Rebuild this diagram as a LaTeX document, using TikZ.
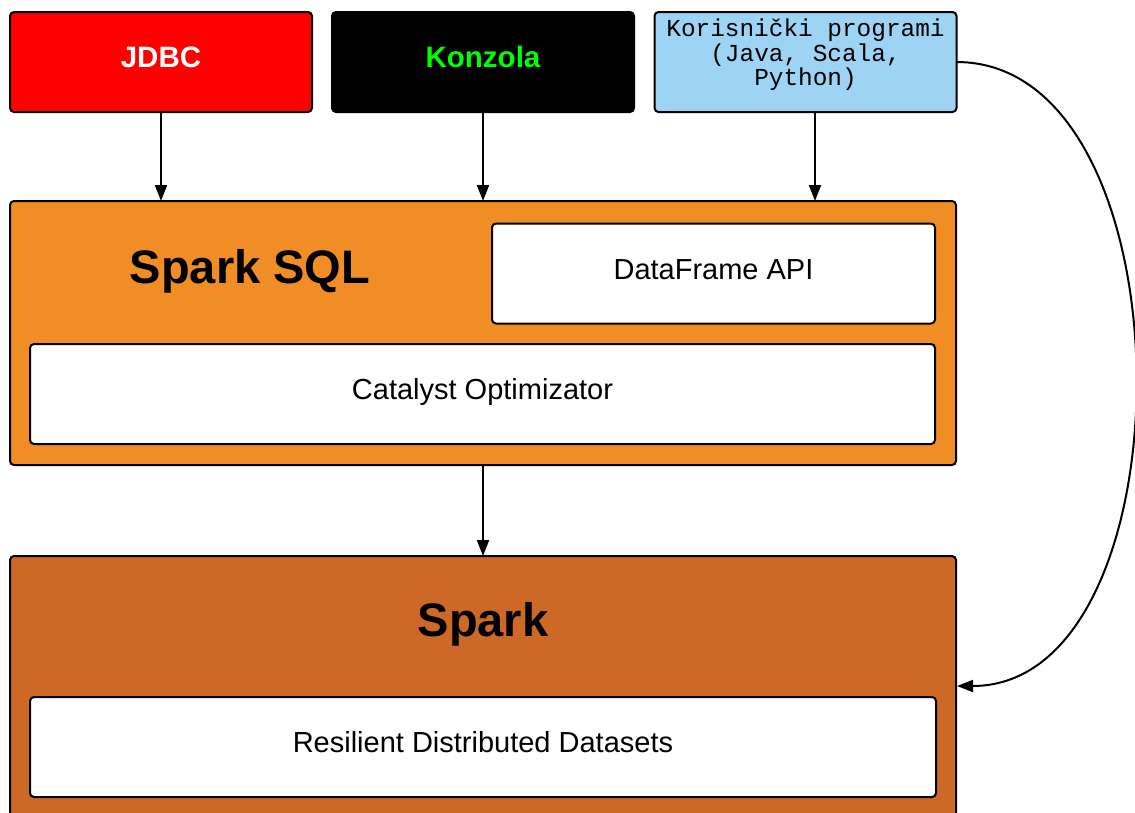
\documentclass[tikz,border=0pt]{standalone}
\usepackage{fontspec}
\setmainfont{Liberation Sans}
\newfontfamily\monofam{Liberation Mono}
\usetikzlibrary{arrows.meta}
\definecolor{jdbcred}{HTML}{FF0000}
\definecolor{konzgreen}{HTML}{00FF00}
\definecolor{userblue}{HTML}{9DD3F3}
\definecolor{sqlorange}{HTML}{F08D24}
\definecolor{sparkbrown}{HTML}{CD6827}
\tikzset{
  box/.style={draw=black, line width=2pt, rounded corners=4pt, inner sep=0pt, outer sep=0pt},
  topbox/.style={box, minimum width=302pt, minimum height=100pt},
  innerbox/.style={box, fill=white, minimum height=100pt},
  lbl/.style={inner sep=0pt, outer sep=0pt, anchor=base},
  toplbl/.style={lbl, font=\fontsize{29.5}{33}\selectfont\bfseries},
  innerlbl/.style={lbl, font=\fontsize{29}{33}\selectfont},
  titlelbl/.style={lbl, font=\fontsize{47}{52}\selectfont\bfseries},
  conn/.style={line width=2pt, -{Triangle[length=16pt,width=12pt]}}
}
\begin{document}
\begin{tikzpicture}[x=1pt,y=-1pt]
\useasboundingbox (0,0) rectangle (1135,812);
\clip (0,0) rectangle (1135,812);
% top boxes
\node[topbox, fill=jdbcred] (jdbc) at (161,62) {};
\node[toplbl, text=white] (jdbclbl) at (161,67.6) {JDBC};
\node[topbox, fill=black] (konz) at (483,62) {};
\node[toplbl, text=konzgreen] (konzlbl) at (483,67.6) {Konzola};
\node[topbox, fill=userblue] (user) at (805.5,62) {};
\node[inner sep=0pt, align=center, font=\monofam\fontsize{24.4}{24.5}\selectfont] (userlbl) at (805.5,55) {Korisnički programi\\(Java, Scala,\\Python)};
% Spark SQL
\node[box, fill=sqlorange, minimum width=946pt, minimum height=264pt] (sql) at (483,333) {};
\node[titlelbl] (sqltitle) at (250,283.8) {Spark SQL};
\node[innerbox, minimum width=443pt] (df) at (713.5,273.5) {};
\node[innerlbl] (dflbl) at (713.5,279.4) {DataFrame API};
\node[innerbox, minimum width=905pt] (cat) at (482.5,394) {};
\node[innerlbl] (catlbl) at (482.5,399.4) {Catalyst Optimizator};
% Spark
\node[box, fill=sparkbrown, minimum width=946pt, minimum height=300pt] (spark) at (483,706) {};
\node[titlelbl] (sparktitle) at (483,636.8) {Spark};
\node[innerbox, minimum width=906pt] (rdd) at (483,747) {};
\node[innerlbl] (rddlbl) at (483,752.4) {Resilient Distributed Datasets};
% connectors
\draw[conn] (jdbc.south) -- (jdbc.south |- sql.north);
\draw[conn] (konz.south) -- (konz.south |- sql.north);
\coordinate (userdown) at (815,112);
\draw[conn] (userdown) -- (userdown |- sql.north);
\draw[conn] (sql.south) -- (spark.north);
\coordinate (sparkin) at (957,686);
\draw[conn] (user.east) .. controls (1194,62) and (1194,686) .. (sparkin);
\end{tikzpicture}
\end{document}
